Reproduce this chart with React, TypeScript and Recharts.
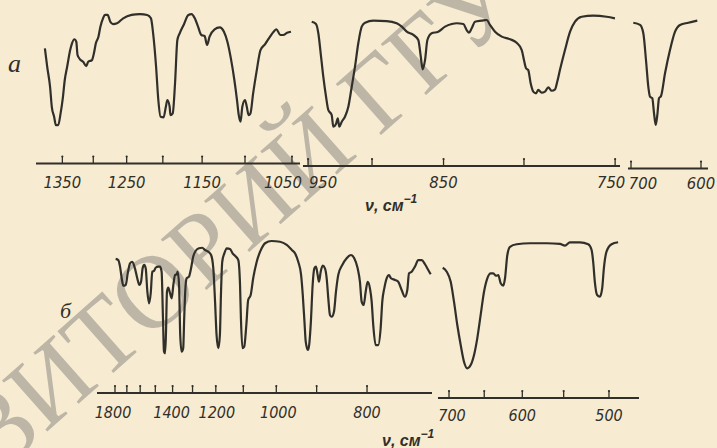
import React from "react";
import { LineChart, Line, XAxis, YAxis } from "recharts";

// ---- data: [wavenumber cm^-1, transmittance %] ----
const specA1: [number, number][] = [
  [1380, 70.5], [1376, 56.4], [1371, 41.0], [1368, 25.6], [1364, 17.9], [1361, 11.5], [1357, 11.5],
  [1353, 20.5], [1349, 33.3], [1346, 46.2], [1342, 56.4], [1337, 69.2], [1334, 74.4], [1330, 77.5],
  [1327, 75.6], [1325, 65.4], [1321, 62.1], [1316, 60.2], [1311, 56.9], [1308, 60.2], [1302, 61.5],
  [1299, 66.7], [1296, 74.4], [1292, 79.5], [1289, 87.2], [1285, 93.6], [1282, 96.2], [1278, 96.2],
  [1274, 91.0], [1270, 89.2], [1264, 89.8], [1255, 93.6], [1243, 96.2], [1231, 96.9], [1221, 96.2],
  [1216, 93.6], [1213, 82.1], [1209, 56.4], [1206, 30.8], [1203, 17.9], [1199, 17.5], [1196, 25.6],
  [1194, 30.8], [1191, 25.6], [1190, 19.2], [1187, 20.5], [1184, 43.6], [1181, 76.9], [1178, 82.1],
  [1173, 88.5], [1167, 96.2], [1163, 96.9], [1159, 93.6], [1155, 87.2], [1151, 80.8], [1147, 80.0],
  [1144, 73.1], [1141, 79.5], [1135, 85.2], [1129, 86.7], [1124, 83.3], [1120, 75.6], [1116, 62.8],
  [1112, 46.2], [1109, 30.8], [1107, 19.2], [1105, 14.1], [1103, 25.6], [1100, 30.8], [1098, 25.6],
  [1096, 19.2], [1094, 20.5], [1091, 35.9], [1087, 53.8], [1083, 69.2], [1078, 73.8], [1074, 78.2],
  [1069, 83.3], [1066, 85.2], [1062, 80.8], [1059, 80.8], [1055, 82.5], [1051, 83.3],
];

const specA2: [number, number][] = [
  [947, 91.0], [943.5, 89.2], [941.6, 82.1], [939.7, 66.7], [937.6, 48.7], [935.4, 33.3], [933.6, 23.1],
  [930.9, 19.2], [929.6, 10.2], [927.5, 12.3], [926.1, 16.7], [924.9, 10.2], [923, 14.1], [920.5, 17.9],
  [917.9, 25.6], [915.3, 41.0], [912.8, 56.4], [910.3, 74.4], [907.7, 87.2], [905.2, 90.2], [899, 91.8],
  [889.3, 91.5], [882.1, 89.8], [878.5, 87.2], [875, 83.3], [870.4, 80.8], [867, 76.9], [865.3, 64.1],
  [864, 54.4], [862.4, 61.5], [860.8, 76.9], [857.9, 82.1], [853.5, 83.3], [849, 87.2], [844.6, 89.2],
  [841.4, 89.8], [837.1, 89.2], [835, 84.6], [833.5, 82.5], [831.8, 85.9], [829.7, 91.0], [825.5, 91.8],
  [822.4, 92.3], [820.4, 88.5], [817.3, 83.3], [813.2, 79.5], [808.2, 77.5], [804.3, 74.8], [801.3, 69.2],
  [800, 61.5], [798.8, 55.2], [797.5, 53.8], [796.1, 43.6], [794.6, 37.2], [793, 35.9], [791.7, 38.5],
  [789.8, 36.4], [787.9, 37.2], [786, 40.5], [784.1, 37.9], [782.2, 39.0], [781, 44.8], [779.5, 53.8],
  [776.7, 69.2], [773.9, 83.3], [771.2, 91.0], [767.6, 94.8], [761.4, 95.6], [754.4, 94.8], [750.1, 93.6],
];

const specA3: [number, number][] = [
  [696.7, 90.2], [687.1, 88.5], [682.4, 82.1], [678.6, 61.5], [675.3, 41.0], [672.9, 33.3], [669.6, 32.1],
  [667.1, 20.5], [664.7, 11.5], [662.4, 19.2], [660, 32.1], [657.1, 33.8], [651.4, 51.3], [644.3, 69.2],
  [637.1, 83.3], [630, 88.5], [618.1, 90.2], [605.3, 91.8],
];

const specB1: [number, number][] = [
  [1794, 82.9], [1771, 82.1], [1756, 77.4], [1742, 69.1], [1729, 63.8], [1709, 64.3], [1693, 72.6],
  [1675, 79.8], [1658, 80.9], [1638, 76.2], [1621, 69.1], [1606, 64.3], [1594, 66.6], [1583, 76.2],
  [1572, 78.6], [1562, 76.2], [1551, 59.5], [1540, 51.2], [1529, 58.4], [1519, 73.8], [1508, 74.3],
  [1498, 76.6], [1482, 77.4], [1472, 77.4], [1462, 73.8], [1454, 40.5], [1448, 16.6], [1442, 15.5],
  [1437, 28.6], [1431, 59.5], [1424, 62.4], [1414, 58.4], [1405, 54.8], [1396, 64.3], [1387, 71.4],
  [1378, 71.9], [1373, 73.8], [1366, 64.3], [1360, 28.6], [1353, 16.6], [1345, 19.1], [1340, 40.5],
  [1335, 59.5], [1328, 69.1], [1317, 70.2], [1307, 76.2], [1297, 84.5], [1286, 88.6], [1271, 90.5],
  [1256, 90.9], [1245, 89.3], [1231, 88.1], [1219, 85.7], [1210, 76.2], [1203, 52.4], [1197, 28.6],
  [1190, 19.1], [1184, 28.6], [1180, 57.1], [1175, 80.9], [1167, 86.9], [1158, 90.5], [1146, 90.0],
  [1137, 86.9], [1125, 84.5], [1117, 82.1], [1111, 64.3], [1108, 40.5], [1103, 19.1], [1097, 20.2],
  [1090, 35.7], [1084, 53.6], [1076, 57.1], [1068, 69.1], [1057, 80.9], [1042, 90.5], [1032, 94.1],
  [1013, 95.7], [990, 95.2], [972, 92.9], [959, 89.3], [951, 86.9], [943, 80.9], [936, 71.4],
  [932, 57.1], [928, 38.1], [925, 23.8], [920, 17.9], [917, 21.4], [913, 38.1], [909, 64.3],
  [905, 76.2], [901.5, 77.4], [897.7, 71.4], [894.8, 66.6], [891, 73.8], [886.7, 78.1], [881.8, 76.2],
  [878.1, 69.1], [874.7, 54.8], [871.2, 42.9], [867.6, 41.6], [862.9, 45.2], [858.8, 59.5], [854.2, 71.4],
  [846.2, 78.6], [837.6, 83.4], [829.4, 85.7], [823.2, 83.4], [816.9, 76.2], [812.7, 66.6], [809.6, 52.4],
  [806, 50.0], [802.4, 59.5], [798.9, 66.6], [794.9, 61.9], [791.9, 52.4], [789.2, 35.7], [785.1, 21.4],
  [780.7, 21.4], [776.7, 33.4], [774, 52.4], [770.7, 61.9], [766.8, 69.1], [763.1, 71.4], [759.9, 69.1],
  [753.6, 67.9], [748.5, 66.6], [743.3, 60.7], [738.3, 55.9], [734.8, 60.7], [732.3, 72.6], [728.3, 73.8],
  [723.6, 77.4], [718.8, 82.1], [714, 82.1], [709.4, 79.1], [704.9, 75.0], [701.6, 71.9],
];

const specB2: [number, number][] = [
  [709.3, 76.6], [703.4, 73.8], [697.5, 66.6], [692.7, 52.4], [687.9, 35.7], [683, 21.4], [678.3, 9.5],
  [673.6, 4.8], [668.8, 7.1], [664.1, 14.3], [659.6, 26.2], [654.9, 42.9], [650.3, 59.5], [645.8, 69.1],
  [641.2, 72.6], [637.7, 72.6], [634.1, 70.9], [631.1, 71.4], [627.9, 65.5], [624.5, 63.8], [622.2, 69.1],
  [619.2, 85.7], [615.7, 91.6], [607.1, 93.4], [590.4, 94.1], [570, 94.1], [554.3, 93.6], [548.5, 92.4],
  [542.8, 94.8], [531.5, 94.8], [522.3, 93.4], [518.6, 89.3], [516.9, 80.9], [515.1, 66.6], [512.6, 57.1],
  [509.7, 55.9], [507.2, 61.9], [505.4, 76.2], [502.6, 88.1], [497.3, 93.4], [490.5, 94.8],
];

// ---- ticks (cm^-1) ----
const ticksA1 = [1350, 1300, 1250, 1200, 1150, 1100, 1050];
const labelsA1 = [1350, 1250, 1150, 1050];
const ticksA2 = [950, 900, 850, 800, 750];
const labelsA2 = [950, 850, 750];
const ticksA3 = [700, 600];
const labelsA3 = [700, 600];
const ticksB1 = [1800, 1700, 1600, 1500, 1400, 1300, 1200, 1100, 1000, 900, 800];
const labelsB1 = [1800, 1400, 1200, 1000, 800];
const ticksB2 = [700, 650, 600, 550, 500];
const labelsB2 = [700, 600, 500];

const INK = "#302f2a";
const PAPER = "#f7ebd1";
const W = 717;
const H = 448;
const NUM_FONT = "'Liberation Sans Narrow', 'DejaVu Sans Condensed', 'Liberation Sans', sans-serif";

type Scale = { fwd: (wn: number) => number; inv: (v: number) => number };
const lambda: Scale = { fwd: (wn) => 10000 / wn, inv: (v) => 10000 / v };
const linear: Scale = { fwd: (wn) => wn, inv: (v) => v };
const logScale: Scale = { fwd: (wn) => Math.log(wn), inv: (v) => Math.exp(v) };

type SegProps = {
  spec: [number, number][];
  scale: Scale;
  xFrom: number; // wn at left edge of plot
  xTo: number; // wn at right edge of plot
  left: number;
  right: number;
  axisY: number;
  top: number;
  yMin: number;
  ticks: number[];
  labels: number[];
  nudge: Record<number, number>;
  labelDy: number;
  fontSize: number;
};

function Segment(p: SegProps) {
  const data = p.spec.map(([wn, t]) => ({ wn, t }));
  const a = p.scale.fwd(p.xFrom);
  const b = p.scale.fwd(p.xTo);
  const reversed = a > b;
  const domain: [number, number] = [Math.min(a, b), Math.max(a, b)];
  const renderTick = (props: any) => {
    const { x, y, payload } = props;
    const wn = Math.round(p.scale.inv(payload.value));
    const show = p.labels.includes(wn);
    const dx = p.nudge[wn] ?? 0;
    return (
      <g>
        <line x1={x} x2={x} y1={y} y2={y - 7} stroke={INK} strokeWidth={1.3} />
        <circle cx={x} cy={y - 7} r={1.1} fill={INK} />
        {show && (
          <text
            x={x + dx}
            y={y + p.labelDy}
            textAnchor="middle"
            fontFamily={NUM_FONT}
            fontStyle="italic"
            fontSize={p.fontSize}
            fill={INK}
          >
            {wn}
          </text>
        )}
      </g>
    );
  };
  return (
    <div style={{ position: "absolute", left: 0, top: 0 }}>
      <LineChart
        width={W}
        height={H}
        data={data}
        margin={{ top: p.top, left: p.left, right: W - p.right, bottom: H - p.axisY - 30 }}
      >
        <XAxis
          type="number"
          dataKey={(d: any) => p.scale.fwd(d.wn)}
          domain={domain}
          reversed={reversed}
          allowDataOverflow
          ticks={p.ticks.map(p.scale.fwd)}
          interval={0}
          tickLine={false}
          tickSize={0}
          tickMargin={0}
          tick={renderTick}
          height={30}
          axisLine={{ stroke: INK, strokeWidth: 2 }}
        />
        <YAxis type="number" domain={[p.yMin, 100]} hide allowDataOverflow />
        <Line
          dataKey="t"
          type="monotone"
          dot={false}
          stroke={INK}
          strokeWidth={2.2}
          isAnimationActive={false}
        />
      </LineChart>
    </div>
  );
}

export default function App() {
  return (
    <div
      style={{
        position: "absolute",
        left: 0,
        top: 0,
        width: W,
        height: H,
        background: PAPER,
        overflow: "hidden",
      }}
    >
      <svg width={W} height={H} style={{ position: "absolute", left: 0, top: 0 }}>
        <text
          transform="translate(6,468) rotate(-41.6)"
          fontFamily="'Liberation Serif', serif"
          fontSize={104}
          fill="#bdb6a7"
        >
          ЗИТОРИЙ ГГУ
        </text>
      </svg>

      <Segment spec={specA1} scale={lambda} xFrom={1395.8} xTo={1041.9} left={36} right={300} axisY={163.5}
        top={10} yMin={-18} ticks={ticksA1} labels={labelsA1} nudge={{ 1050: -9 }} labelDy={24} fontSize={16.5} />
      <Segment spec={specA2} scale={lambda} xFrom={954.2} xTo={747.5} left={303} right={620} axisY={166}
        top={10} yMin={-20} ticks={ticksA2} labels={labelsA2} nudge={{ 950: 15, 750: -4 }} labelDy={22} fontSize={16.5} />
      <Segment spec={specA3} scale={linear} xFrom={704.3} xTo={590} left={628} right={708} axisY={168.5}
        top={10} yMin={-22} ticks={ticksA3} labels={labelsA3} nudge={{ 700: 12, 600: 0 }} labelDy={20} fontSize={16.5} />
      <Segment spec={specB1} scale={lambda} xFrom={1976.3} xTo={699.8} left={97} right={432} axisY={393}
        top={235} yMin={-12.86} ticks={ticksB1} labels={labelsB1} nudge={{ 1800: -2, 1000: 2, 1400: -1, 1200: 1 }}
        labelDy={25} fontSize={16} />
      <Segment spec={specB2} scale={logScale} xFrom={716.4} xTo={469.4} left={438} right={639} axisY={398}
        top={235} yMin={-16.43} ticks={ticksB2} labels={labelsB2} nudge={{ 700: 3 }} labelDy={23} fontSize={16} />

      <svg width={W} height={H} style={{ position: "absolute", left: 0, top: 0 }}>
        <text x={8} y={72} fontFamily="'Liberation Serif', serif" fontStyle="italic" fontSize={26} fill={INK}>
          а
        </text>
        <text x={60} y={318} fontFamily="'Liberation Serif', serif" fontStyle="italic" fontSize={22} fill={INK}>
          б
        </text>
        <text x={365} y={211} fontFamily="'Liberation Sans', sans-serif" fontStyle="italic" fontWeight={700}
          fontSize={16} fill={INK}>
          ν, см<tspan dy={-8} fontSize={12}>−1</tspan>
        </text>
        <text x={382} y={446} fontFamily="'Liberation Sans', sans-serif" fontStyle="italic" fontWeight={700}
          fontSize={16} fill={INK}>
          ν, см<tspan dy={-8} fontSize={12}>−1</tspan>
        </text>
      </svg>
    </div>
  );
}
